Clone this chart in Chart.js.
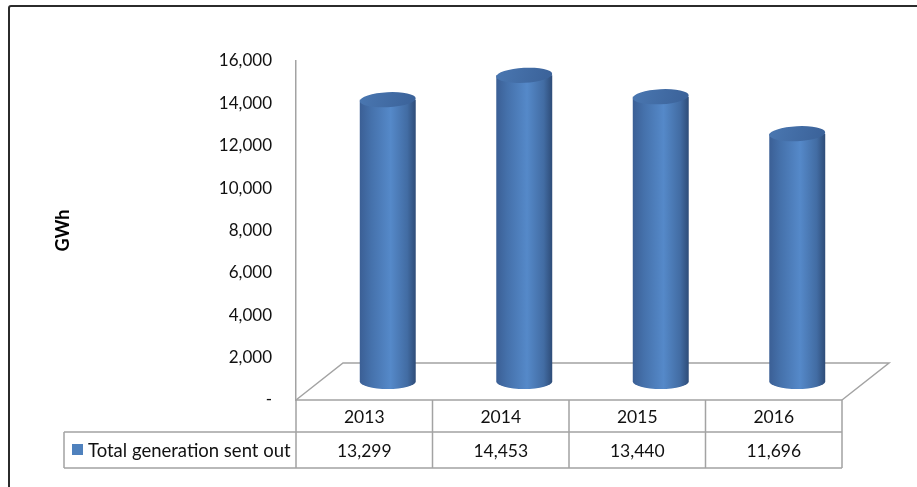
<!DOCTYPE html>
<html>
<head>
<meta charset="utf-8">
<script src="https://cdn.jsdelivr.net/npm/chart.js@4"></script>
<style>
  html, body { margin: 0; padding: 0; background: #fff; }
  #wrap { position: relative; width: 917px; height: 487px; overflow: hidden; }
  #frame { position: absolute; left: 8px; top: 5px; width: 1000px; height: 600px; border: 2px solid #2b2b2b; border-radius: 3px; }
  canvas { position: absolute; left: 0; top: 0; }
</style>
</head>
<body>
<div id="wrap">
  <div id="frame"></div>
  <canvas id="chart" width="917" height="487"></canvas>
</div>
<script>
// ─── Data ─────────────────────────────────────────────────────────────────────

const years = ["2013", "2014", "2015", "2016"];
const generation = [13299, 14453, 13440, 11696];
const seriesName = "Total generation sent out";
const yTicks = [0, 2000, 4000, 6000, 8000, 10000, 12000, 14000, 16000];

// ─── Look ─────────────────────────────────────────────────────────────────────

const FONT = "Lato, 'Open Sans', sans-serif";
const GRID = "#a3a3a3";
const DEPTH_X = 47;   // 3D floor depth
const DEPTH_Y = -37;
const HEAD_ROW = 32;
const DATA_ROW = 36;
const LEGEND_LEFT = 64;

const fmt = (v) => v.toLocaleString("en-US");

function drawCylinder(ctx, cx, w, topY, baseY) {
  const rx = w / 2, ry = 7.5;
  const left = cx - rx, right = cx + rx;

  const side = ctx.createLinearGradient(left, 0, right, 0);
  side.addColorStop(0, "#3b5f95");
  side.addColorStop(0.2, "#4571ab");
  side.addColorStop(0.55, "#5589c9");
  side.addColorStop(0.85, "#426ca3");
  side.addColorStop(1, "#2e4c78");
  ctx.fillStyle = side;
  ctx.beginPath();
  ctx.moveTo(left, topY);
  ctx.lineTo(left, baseY);
  ctx.ellipse(cx, baseY, rx, ry, 0, Math.PI, 0, true);
  ctx.lineTo(right, topY);
  ctx.closePath();
  ctx.fill();

  const top = ctx.createLinearGradient(left, topY - ry, right, topY + ry);
  top.addColorStop(0, "#4a77b1");
  top.addColorStop(1, "#3a6198");
  ctx.fillStyle = top;
  ctx.beginPath();
  ctx.ellipse(cx, topY, rx, ry, -0.05, 0, Math.PI * 2);
  ctx.fill();
}

// ─── Plugins: floor, cylinders, data table ────────────────────────────────────

const floorPlugin = {
  id: "floor3d",
  beforeDatasetsDraw(chart) {
    const { ctx, chartArea, scales } = chart;
    const y0 = scales.y.getPixelForValue(0);
    const l = chartArea.left, r = chartArea.right;
    ctx.save();
    ctx.strokeStyle = GRID;
    ctx.lineWidth = 1.5;
    ctx.beginPath();
    ctx.moveTo(l, y0);
    ctx.lineTo(l + DEPTH_X, y0 + DEPTH_Y);
    ctx.lineTo(r + DEPTH_X, y0 + DEPTH_Y);
    ctx.lineTo(r, y0);
    ctx.stroke();
    ctx.restore();
  },
};

const cylinderPlugin = {
  id: "cylinders",
  afterDatasetsDraw(chart) {
    const { ctx } = chart;
    const meta = chart.getDatasetMeta(0);
    ctx.save();
    meta.data.forEach((bar) => {
      const cx = bar.x + DEPTH_X / 2;
      drawCylinder(ctx, cx, bar.width, bar.y + DEPTH_Y / 2, bar.base + DEPTH_Y / 2);
    });
    ctx.restore();
  },
};

const tablePlugin = {
  id: "dataTable",
  afterDraw(chart) {
    const { ctx, chartArea, scales } = chart;
    const x = scales.x;
    const top = scales.y.getPixelForValue(0);
    const mid = top + HEAD_ROW;
    const bottom = mid + DATA_ROW;
    const colW = (chartArea.right - chartArea.left) / years.length;

    ctx.save();
    ctx.strokeStyle = GRID;
    ctx.lineWidth = 1.5;
    ctx.beginPath();
    // horizontal lines
    ctx.moveTo(chartArea.left, top); ctx.lineTo(chartArea.right, top);
    ctx.moveTo(LEGEND_LEFT, mid); ctx.lineTo(chartArea.right, mid);
    ctx.moveTo(LEGEND_LEFT, bottom); ctx.lineTo(chartArea.right, bottom);
    // vertical lines
    ctx.moveTo(LEGEND_LEFT, mid); ctx.lineTo(LEGEND_LEFT, bottom);
    for (let i = 0; i <= years.length; i++) {
      const px = chartArea.left + i * colW;
      ctx.moveTo(px, top); ctx.lineTo(px, bottom);
    }
    ctx.stroke();

    ctx.fillStyle = "#111";
    ctx.font = "17.5px " + FONT;
    ctx.textAlign = "center";
    ctx.textBaseline = "middle";
    years.forEach((yr, i) => {
      const cx = x.getPixelForValue(i);
      ctx.fillText(yr, cx, top + HEAD_ROW / 2 + 1);
      ctx.fillText(fmt(generation[i]), cx, mid + DATA_ROW / 2 + 1);
    });

    // legend key
    ctx.fillStyle = "#4f81bd";
    ctx.fillRect(LEGEND_LEFT + 8, mid + 12, 11, 11);
    ctx.fillStyle = "#111";
    ctx.textAlign = "left";
    ctx.font = "18.5px " + FONT;
    ctx.fillText(seriesName, LEGEND_LEFT + 24, mid + DATA_ROW / 2 + 1);
    ctx.restore();
  },
};

// ─── Chart ────────────────────────────────────────────────────────────────────

new Chart(document.getElementById("chart"), {
  type: "bar",
  data: {
    labels: years,
    datasets: [
      {
        label: seriesName,
        data: generation,
        backgroundColor: "rgba(0,0,0,0)",
        borderWidth: 0,
        barPercentage: 0.41,
        categoryPercentage: 1,
      },
    ],
  },
  options: {
    responsive: false,
    animation: false,
    events: [],
    layout: { padding: { left: 52, right: 75, top: 61, bottom: 87 } },
    plugins: { legend: { display: false }, tooltip: { enabled: false } },
    scales: {
      x: { display: false },
      y: {
        min: 0,
        max: 16000,
        afterBuildTicks(scale) {
          scale.ticks = yTicks.map((v) => ({ value: v }));
        },
        afterFit(scale) {
          scale.width = 244;
        },
        grid: { display: false, drawTicks: false },
        border: { display: true, color: GRID, width: 1.5 },
        ticks: {
          padding: 24,
          color: "#111",
          font: { family: FONT, size: 17 },
          callback: (v) => (v === 0 ? "-" : fmt(v)),
        },
        title: {
          display: true,
          text: "GWh",
          color: "#000",
          padding: 0,
          font: { family: FONT, size: 18, weight: "bold" },
        },
      },
    },
  },
  plugins: [floorPlugin, cylinderPlugin, tablePlugin],
});
</script>
</body>
</html>
